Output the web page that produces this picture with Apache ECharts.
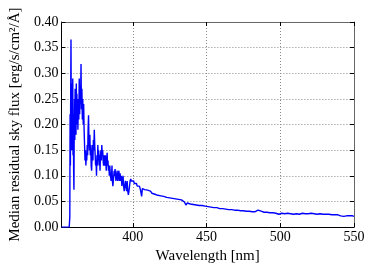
<!DOCTYPE html>
<html>
<head>
<meta charset="utf-8">
<script src="https://cdn.jsdelivr.net/npm/echarts@6/dist/echarts.min.js"></script>
<style>html,body{margin:0;padding:0;background:#fff;}#c{width:371px;height:269px;}</style>
</head>
<body>
<div id="c"></div>
<script>
var xTicks = [400, 450, 500, 550];
var yTicks = [0, 0.05, 0.10, 0.15, 0.20, 0.25, 0.30, 0.35, 0.40];
var wavelength = [
351.6,356.9,357.0,357.3,357.5,357.7,357.9,358.1,358.3,358.5,358.7,358.9,359.1,359.3,359.5,359.7,359.9,360.1,360.3,360.5,
360.7,360.9,361.1,361.3,361.5,361.7,361.9,362.1,362.3,362.5,362.8,363.1,363.4,363.7,364.0,364.3,364.6,364.9,365.2,365.5,
365.8,366.1,366.4,366.7,367.0,367.3,367.6,367.9,368.2,368.5,368.8,369.1,369.4,369.7,370.0,370.3,370.6,370.9,371.2,371.5,
371.8,372.1,372.4,372.7,373.0,373.3,373.6,373.9,374.2,374.5,374.8,375.1,375.4,375.7,376.0,376.3,376.6,376.9,377.2,377.5,
377.8,378.1,378.4,378.7,379.0,379.3,379.6,379.9,380.2,380.5,380.8,381.1,381.4,381.7,382.0,382.3,382.6,382.9,383.2,383.5,
383.8,384.1,384.4,384.7,385.0,385.3,385.6,385.9,386.2,386.5,386.8,387.1,387.4,387.7,388.0,388.3,388.6,389.0,389.4,389.8,
390.2,390.6,391.0,391.4,391.8,392.2,392.6,393.0,393.4,393.8,394.2,394.6,395.0,395.4,395.8,396.2,396.6,397.0,397.4,397.8,
398.2,398.6,399.0,399.4,399.8,400.2,400.6,401.0,401.5,402.0,402.5,403.0,403.5,404.0,404.5,405.0,405.5,406.0,406.5,407.0,
407.5,
408,409,410,411,412,413,414,415,416,417,418,419,420,421,422,423,424,425,426,427,
428,429,430,431,432,433,434,435,436,437,438,439,440,441,442,443,444,445,446,447,
448,449,450,451,452,453,454,455,456,457,458,459,460,461,462,463,464,465,466,467,
468,469,470,471,472,473,474,475,476,477,478,479,480,481,482,483,484,485,486,487,
488,489,490,491,492,493,494,495,496,497,498,499,500,501,502,503,504,505,506,507,
508,509,510,511,512,513,514,515,516,517,518,519,520,521,522,523,524,525,526,527,
528,529,530,531,532,533,534,535,536,537,538,539,540,541,542,543,544,545,546,547,
548,549,550
];
var flux = [
0,0,0.00,0.02,0.22,0.12,0.26,0.366,0.20,0.28,0.15,0.24,0.19,0.29,0.14,0.22,0.11,0.073,0.20,0.25,
0.17,0.27,0.21,0.24,0.18,0.28,0.22,0.26,0.20,0.23,0.19,0.25,0.21,0.29,0.22,0.26,0.24,0.318,0.23,0.27,
0.21,0.25,0.20,0.24,0.19,0.16,0.13,0.15,0.12,0.14,0.13,0.16,0.14,0.19,0.218,0.17,0.15,0.18,0.14,0.16,
0.12,0.11,0.14,0.16,0.13,0.17,0.15,0.19,0.16,0.14,0.12,0.13,0.10,0.14,0.12,0.16,0.13,0.15,0.12,0.14,
0.11,0.14,0.15,0.13,0.16,0.14,0.15,0.13,0.12,0.14,0.13,0.12,0.14,0.13,0.11,0.13,0.145,0.12,0.13,0.11,
0.12,0.10,0.12,0.107,0.11,0.09,0.10,0.12,0.09,0.08,0.078,0.10,0.11,0.10,0.113,0.10,0.09,0.10,0.11,0.09,
0.10,0.11,0.09,0.105,0.09,0.10,0.08,0.09,0.10,0.08,0.07,0.08,0.09,0.08,0.07,0.09,0.07,0.063,0.07,0.08,
0.09,0.094,0.09,0.088,0.09,0.087,0.09,0.085,0.088,0.082,0.085,0.08,0.083,0.078,0.08,0.075,0.068,0.06,0.075,0.078,
0.074,
0.073,0.071,0.072,0.069,0.070,0.066,0.067,0.064,0.066,0.062,0.064,0.061,0.062,0.060,0.061,0.058,0.060,0.057,0.059,0.056,
0.058,0.055,0.057,0.054,0.056,0.053,0.054,0.049,0.043,0.047,0.048,0.045,0.047,0.044,0.046,0.043,0.045,0.042,0.044,0.042,
0.043,0.041,0.042,0.040,0.041,0.039,0.040,0.038,0.040,0.038,0.039,0.036,0.038,0.036,0.037,0.035,0.036,0.034,0.036,0.034,
0.035,0.033,0.035,0.033,0.034,0.032,0.034,0.032,0.033,0.031,0.033,0.031,0.032,0.030,0.032,0.030,0.031,0.033,0.035,0.031,
0.031,0.029,0.031,0.029,0.030,0.028,0.030,0.028,0.029,0.027,0.027,0.025,0.024,0.027,0.028,0.026,0.028,0.027,0.028,0.026,
0.027,0.025,0.027,0.026,0.027,0.025,0.026,0.027,0.025,0.026,0.024,0.026,0.025,0.027,0.025,0.026,0.024,0.025,0.024,0.026,
0.024,0.025,0.023,0.025,0.024,0.025,0.023,0.024,0.023,0.024,0.022,0.024,0.023,0.022,0.023,0.021,0.023,0.022,0.021,0.022,
0.020,0.022,0.021
];
var xMin = 351.6, xMax = 550, yMin = 0, yMax = 0.40, yStep = 0.05;

var serif = '"Liberation Serif", "DejaVu Serif", serif';
var data = wavelength.map(function (w, i) { return [w, flux[i]]; });
var chart = echarts.init(document.getElementById('c'), null, {renderer: 'canvas'});
var grid = {left: 55, right: 17, top: 22, bottom: 38, containLabel: false};
chart.setOption({
  animation: false,
  backgroundColor: '#fff',
  grid: grid,
  xAxis: [{
    type: 'value', min: xMin, max: xMax, position: 'bottom',
    name: 'Wavelength [nm]', nameLocation: 'middle', nameGap: 17,
    nameTextStyle: {fontFamily: serif, fontSize: 15, color: '#000'},
    axisLine: {onZero: false, lineStyle: {color: '#000', width: 1}},
    axisTick: {inside: true, length: 4, customValues: xTicks, lineStyle: {color: '#000'}},
    axisLabel: {customValues: xTicks, fontFamily: serif, fontSize: 14, color: '#000', margin: 3},
    splitLine: {show: true, lineStyle: {color: '#888', type: [1, 2], width: 1}}
  }, {
    type: 'value', min: xMin, max: xMax, position: 'top',
    axisLine: {onZero: false, lineStyle: {color: '#666', width: 1}},
    axisTick: {inside: true, length: 4, customValues: xTicks, lineStyle: {color: '#000'}},
    axisLabel: {show: false}, splitLine: {show: false}
  }],
  yAxis: [{
    type: 'value', min: yMin, max: yMax, interval: yStep, position: 'left',
    name: 'Median residual sky flux [erg/s/cm²/Å]', nameLocation: 'middle', nameGap: 36,
    nameTextStyle: {fontFamily: serif, fontSize: 15, color: '#000'},
    axisLine: {onZero: false, lineStyle: {color: '#000', width: 1}},
    axisTick: {inside: true, length: 4, lineStyle: {color: '#000'}},
    axisLabel: {fontFamily: serif, fontSize: 14, color: '#000', margin: 3,
      formatter: function (v) { return v.toFixed(2); }},
    splitLine: {show: true, lineStyle: {color: '#888', type: [1, 2], width: 1}}
  }, {
    type: 'value', min: yMin, max: yMax, interval: yStep, position: 'right',
    axisLine: {onZero: false, lineStyle: {color: '#666', width: 1}},
    axisTick: {inside: true, length: 4, lineStyle: {color: '#000'}},
    axisLabel: {show: false}, splitLine: {show: false}
  }],
  series: [{
    type: 'line', data: data, xAxisIndex: 0, yAxisIndex: 0,
    showSymbol: false, symbol: 'none', smooth: false,
    lineStyle: {color: '#0000ff', width: 1.4}, clip: true
  }]
});
</script>
</body>
</html>
